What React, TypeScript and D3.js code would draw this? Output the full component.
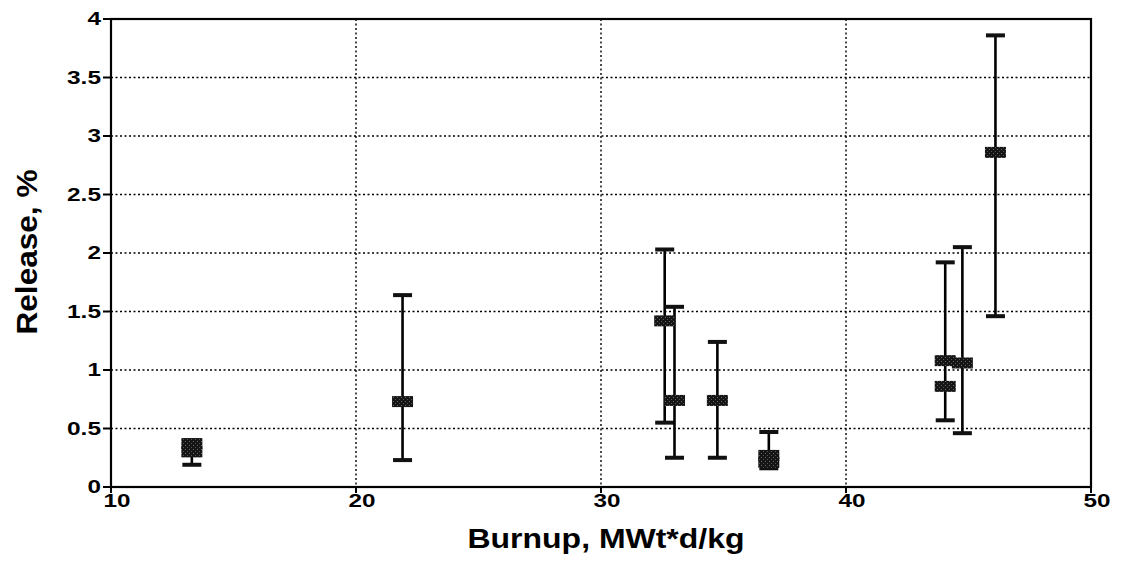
import React from "react";
import * as d3 from "d3";

const burnup = [13.3, 13.3, 21.9, 32.6, 33.0, 34.75, 36.85, 36.85, 44.05, 44.05, 44.75, 46.1];
const release = [0.37, 0.3, 0.73, 1.42, 0.74, 0.74, 0.27, 0.21, 1.08, 0.86, 1.06, 2.86];
const releaseLow: (number | null)[] = [0.19, null, 0.23, 0.55, 0.25, 0.25, 0.16, null, 0.57, null, 0.46, 1.46];
const releaseHigh: (number | null)[] = [0.4, null, 1.64, 2.03, 1.54, 1.24, 0.47, null, 1.92, null, 2.05, 3.86];

const xTicks = [10, 20, 30, 40, 50];
const yTicks = [0, 0.5, 1, 1.5, 2, 2.5, 3, 3.5, 4];
const yTickLabels = ["0", "0.5", "1", "1.5", "2", "2.5", "3", "3.5", "4"];

const W = 1121;
const H = 562;
const left = 111;
const right = 1091;
const top = 19;
const bottom = 487;

const FONT = "'Liberation Sans', Arial, sans-serif";

function labelWidth(s: string) {
  let w = 0;
  for (const c of s) w += c === "." ? 7 : 13.5;
  return w;
}

export default function App() {
  const x = d3.scaleLinear().domain([10, 50]).range([left, right]);
  const y = d3.scaleLinear().domain([0, 4]).range([bottom, top]);
  const capW = 19;
  const mW = 21;
  const mH = 11;

  return (
    <svg
      width={W}
      height={H}
      style={{ position: "absolute", left: 0, top: 0, background: "#fff" }}
      xmlns="http://www.w3.org/2000/svg"
    >
      <defs>
        <pattern id="stipple" width="4" height="4" patternUnits="userSpaceOnUse">
          <rect width="4" height="4" fill="#151515" />
          <rect x="1" y="1" width="1" height="1" fill="#6a6a6a" />
          <rect x="3" y="3" width="1" height="1" fill="#555" />
        </pattern>
      </defs>
      <rect x={0} y={0} width={W} height={H} fill="#fff" />

      {/* horizontal gridlines */}
      {yTicks.slice(1, -1).map((t) => (
        <line
          key={"hg" + t}
          x1={left}
          x2={right}
          y1={y(t)}
          y2={y(t)}
          stroke="#000"
          strokeWidth={1.4}
          strokeDasharray="2 2.5"
        />
      ))}
      {/* vertical gridlines */}
      {xTicks.slice(1, -1).map((t) => (
        <line
          key={"vg" + t}
          x1={x(t)}
          x2={x(t)}
          y1={top}
          y2={bottom}
          stroke="#000"
          strokeWidth={1.4}
          strokeDasharray="2 2.5"
        />
      ))}

      {/* frame */}
      <rect x={left} y={top} width={right - left} height={bottom - top} fill="none" stroke="#000" strokeWidth={2.2} />

      {/* y ticks */}
      {yTicks.map((t, i) => (
        <g key={"yt" + t}>
          <line x1={left - 8} x2={left} y1={y(t)} y2={y(t)} stroke="#000" strokeWidth={2} />
          <text
            x={101}
            y={y(t)}
            dy="0.36em"
            textAnchor="end"
            fontFamily={FONT}
            fontWeight="bold"
            fontSize={18}
            textLength={labelWidth(yTickLabels[i])}
            lengthAdjust="spacingAndGlyphs"
            fill="#000"
          >
            {yTickLabels[i]}
          </text>
        </g>
      ))}

      {/* x ticks */}
      {xTicks.map((t) => (
        <g key={"xt" + t}>
          <line x1={x(t)} x2={x(t)} y1={bottom} y2={bottom + 6} stroke="#000" strokeWidth={2} />
          <text
            x={x(t) + 6}
            y={507}
            textAnchor="middle"
            fontFamily={FONT}
            fontWeight="bold"
            fontSize={18}
            textLength={labelWidth(String(t))}
            lengthAdjust="spacingAndGlyphs"
            fill="#000"
          >
            {t}
          </text>
        </g>
      ))}

      {/* error bars */}
      {burnup.map((b, i) => {
        const lo = releaseLow[i];
        const hi = releaseHigh[i];
        if (lo == null || hi == null) return null;
        const cx = x(b);
        return (
          <g key={"eb" + i}>
            <line x1={cx} x2={cx} y1={y(hi)} y2={y(lo)} stroke="#000" strokeWidth={2.6} />
            <rect x={cx - capW / 2} y={y(hi) - 2} width={capW} height={4} fill="#111" />
            <rect x={cx - capW / 2} y={y(lo) - 2} width={capW} height={4} fill="#111" />
          </g>
        );
      })}

      {/* markers */}
      {burnup.map((b, i) => (
        <rect
          key={"m" + i}
          x={x(b) - mW / 2}
          y={y(release[i]) - mH / 2}
          width={mW}
          height={mH}
          fill="url(#stipple)"
        />
      ))}

      {/* axis titles */}
      <text
        transform={`translate(37,252) rotate(-90)`}
        textAnchor="middle"
        fontFamily={FONT}
        fontWeight="bold"
        fontSize={30}
        textLength={165}
        lengthAdjust="spacingAndGlyphs"
        fill="#000"
      >
        Release, %
      </text>
      <text
        x={606}
        y={548}
        textAnchor="middle"
        fontFamily={FONT}
        fontWeight="bold"
        fontSize={28}
        textLength={277}
        lengthAdjust="spacingAndGlyphs"
        fill="#000"
      >
        Burnup, MWt*d/kg
      </text>
    </svg>
  );
}
